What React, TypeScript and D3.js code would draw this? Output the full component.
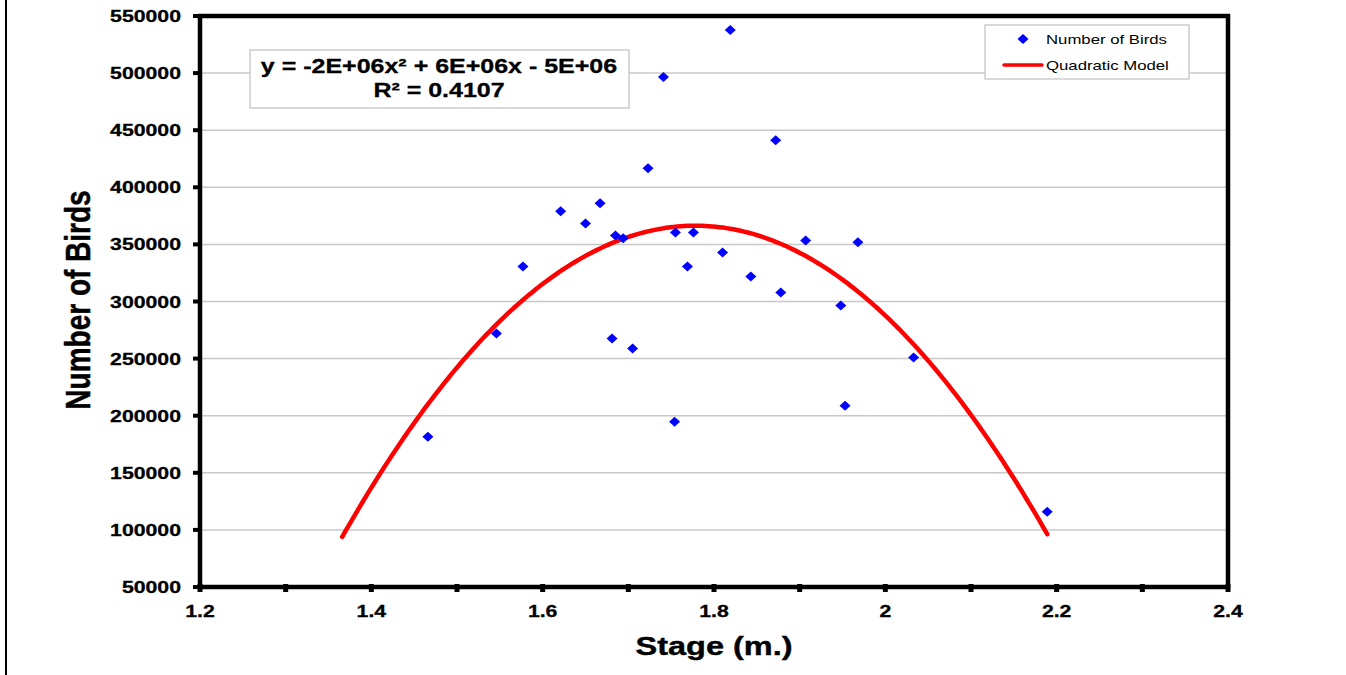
import React from "react";
import * as d3 from "d3";

const stageValues = [1.466, 1.546, 1.577, 1.621, 1.650, 1.667, 1.685, 1.694, 1.681, 1.705, 1.723, 1.741, 1.755, 1.754, 1.769, 1.776, 1.810, 1.819, 1.843, 1.872, 1.878, 1.907, 1.948, 1.953, 1.968, 2.033, 2.189];
const birdCounts = [181600, 271900, 330700, 379000, 368400, 386000, 357900, 355300, 267500, 258800, 416700, 496500, 360500, 194700, 330700, 360500, 343000, 537700, 321900, 441200, 307900, 353500, 296500, 208800, 351800, 250900, 115800];
const xTickLabels = ["1.2", "1.4", "1.6", "1.8", "2", "2.2", "2.4"];
const yTickValues = [50000, 100000, 150000, 200000, 250000, 300000, 350000, 400000, 450000, 500000, 550000];
const equationText = "y = -2E+06x² + 6E+06x - 5E+06";
const rSquaredText = "R² = 0.4107";
const legendLabels = ["Number of Birds", "Quadratic Model"];
const xAxisTitle = "Stage (m.)";
const yAxisTitle = "Number of Birds";

const W = 1346;
const H = 675;
const left = 200, right = 1228, top = 16, bottom = 587;
const SX = 1.25;
const FONT = "Arial, 'Liberation Sans', sans-serif";

function fitQuadratic(xs: number[], ys: number[]) {
  // least squares y = a x^2 + b x + c
  const n = xs.length;
  let s0 = n, s1 = 0, s2 = 0, s3 = 0, s4 = 0, t0 = 0, t1 = 0, t2 = 0;
  for (let i = 0; i < n; i++) {
    const x = xs[i], y = ys[i];
    s1 += x; s2 += x * x; s3 += x * x * x; s4 += x * x * x * x;
    t0 += y; t1 += x * y; t2 += x * x * y;
  }
  const M = [
    [s4, s3, s2, t2],
    [s3, s2, s1, t1],
    [s2, s1, s0, t0],
  ];
  for (let i = 0; i < 3; i++) {
    for (let k = i + 1; k < 3; k++) {
      const f = M[k][i] / M[i][i];
      for (let j = i; j < 4; j++) M[k][j] -= f * M[i][j];
    }
  }
  const r = [0, 0, 0];
  for (let i = 2; i >= 0; i--) {
    let s = M[i][3];
    for (let j = i + 1; j < 3; j++) s -= M[i][j] * r[j];
    r[i] = s / M[i][i];
  }
  return r;
}

export default function App() {
  const x = d3.scaleLinear().domain([1.2, 2.4]).range([left, right]);
  const y = d3.scaleLinear().domain([50000, 550000]).range([bottom, top]);
  const [a, b, c] = fitQuadratic(stageValues, birdCounts);
  const xMin = d3.min(stageValues)! - 0.1;
  const xMax = d3.max(stageValues)!;
  const curvePts = d3.range(0, 201).map((i) => {
    const xv = xMin + (xMax - xMin) * (i / 200);
    return [xv, a * xv * xv + b * xv + c] as [number, number];
  });
  const line = d3.line<[number, number]>().x((d) => x(d[0])).y((d) => y(d[1]));
  const minorTicks = d3.range(12, 25).map((v) => v / 10);
  const diamond = (cx: number, cy: number) =>
    `M${cx},${cy - 5} L${cx + 5.5},${cy} L${cx},${cy + 5} L${cx - 5.5},${cy} Z`;

  return (
    <svg width={W} height={H} style={{ position: "absolute", left: 0, top: 0, background: "#fff" }} fontFamily={FONT}>
      <rect x={0} y={0} width={W} height={H} fill="#fff" />
      <line x1={6} y1={0} x2={6} y2={H} stroke="#000" strokeWidth={2} />
      {/* gridlines */}
      {yTickValues.map((v) => (
        <line key={"g" + v} x1={left} x2={right} y1={y(v)} y2={y(v)} stroke="#c8c8c8" strokeWidth={1.5} />
      ))}
      {/* y ticks */}
      {yTickValues.map((v) => (
        <line key={"yt" + v} x1={left - 7} x2={left} y1={y(v)} y2={y(v)} stroke="#000" strokeWidth={4} />
      ))}
      {/* x ticks */}
      {minorTicks.map((v) => (
        <line key={"xt" + v} x1={x(v)} x2={x(v)} y1={bottom - 3} y2={bottom + 5} stroke="#000" strokeWidth={5} />
      ))}
      {/* frame */}
      <rect x={left} y={top} width={right - left} height={bottom - top} fill="none" stroke="#000" strokeWidth={4.5} />
      {/* y tick labels */}
      {yTickValues.map((v) => (
        <text key={"yl" + v} transform={`translate(181,${y(v) + 6}) scale(${SX},1)`} textAnchor="end" fontSize={17} fontWeight="bold" fill="#000" stroke="#000" strokeWidth={0.3}>
          {String(v)}
        </text>
      ))}
      {/* x tick labels */}
      {xTickLabels.map((t) => (
        <text key={"xl" + t} transform={`translate(${x(+t)},617) scale(${SX},1)`} textAnchor="middle" fontSize={17} fontWeight="bold" fill="#000" stroke="#000" strokeWidth={0.3}>
          {t}
        </text>
      ))}
      {/* axis titles */}
      <text transform={`translate(714,655) scale(${SX},1)`} textAnchor="middle" fontSize={26} fontWeight="bold" fill="#000" stroke="#000" strokeWidth={0.4}>
        {xAxisTitle}
      </text>
      <text transform={`translate(90,300) scale(${SX},1) rotate(-90)`} textAnchor="middle" fontSize={28} fontWeight="bold" fill="#000" stroke="#000" strokeWidth={0.4}>
        {yAxisTitle}
      </text>
      {/* curve */}
      <path d={line(curvePts) || ""} fill="none" stroke="#ff0000" strokeWidth={4.5} strokeLinecap="round" />
      {/* points */}
      {stageValues.map((s, i) => (
        <path key={"p" + i} d={diamond(x(s), y(birdCounts[i]))} fill="#0000ff" />
      ))}
      {/* equation box */}
      <rect x={250} y={50} width={379} height={58} fill="#fff" stroke="#c0c0c0" strokeWidth={1.2} />
      <text transform={`translate(439,73) scale(${SX},1)`} textAnchor="middle" fontSize={20} fontWeight="bold" fill="#000" stroke="#000" strokeWidth={0.3}>
        {equationText}
      </text>
      <text transform={`translate(439,97) scale(${SX},1)`} textAnchor="middle" fontSize={20} fontWeight="bold" fill="#000" stroke="#000" strokeWidth={0.3}>
        {rSquaredText}
      </text>
      {/* legend */}
      <rect x={985} y={25} width={204} height={54} fill="#fff" stroke="#c0c0c0" strokeWidth={1.2} />
      <path d={diamond(1023, 39)} fill="#0000ff" />
      <line x1={1004} x2={1042} y1={65} y2={65} stroke="#ff0000" strokeWidth={3.5} strokeLinecap="round" />
      <text transform={`translate(1046,44) scale(${SX},1)`} fontSize={13.4} fill="#000">{legendLabels[0]}</text>
      <text transform={`translate(1046,70) scale(${SX},1)`} fontSize={13.4} fill="#000">{legendLabels[1]}</text>
    </svg>
  );
}
